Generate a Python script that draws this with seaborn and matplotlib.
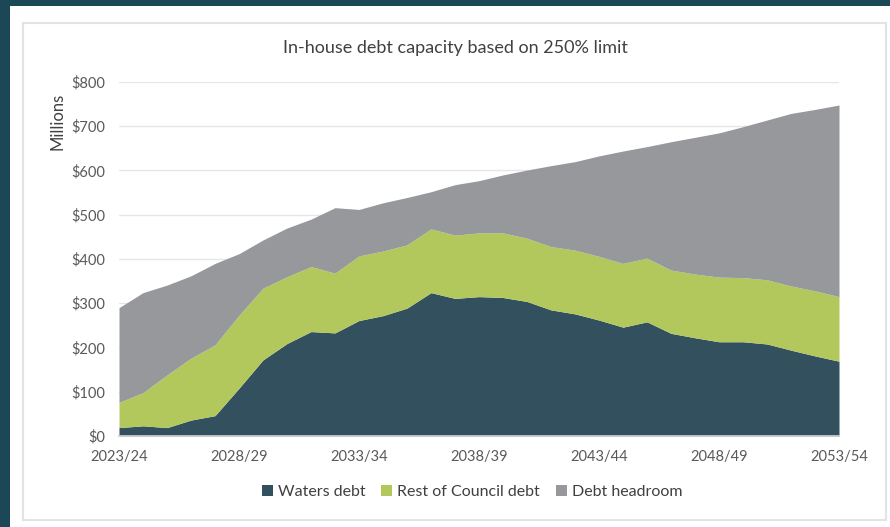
import matplotlib
matplotlib.use("Agg")
import matplotlib.pyplot as plt
from matplotlib.patches import Rectangle
import numpy as np
import pandas as pd
import seaborn as sns

# Financial years 2023/24 .. 2053/54
years = [f"{y}/{str(y + 1)[-2:]}" for y in range(2023, 2054)]

# $ millions, per year
waters_debt = [19, 23, 19, 36, 46, 108, 172, 209, 236, 233, 261, 272, 289, 324, 311,
               315, 313, 304, 285, 276, 262, 246, 258, 232, 222, 213, 213, 208, 194, 181, 169]
rest_of_council_debt = [57, 75, 119, 140, 160, 165, 162, 151, 147, 135, 146, 146, 143, 144, 143,
                        144, 146, 143, 143, 144, 144, 144, 144, 143, 144, 146, 145, 145, 145, 147, 146]
debt_headroom = [214, 226, 203, 186, 184, 139, 109, 110, 107, 148, 105, 109, 107, 84, 114,
                 118, 131, 154, 183, 200, 227, 254, 252, 290, 309, 326, 341, 361, 390, 410, 433]

series_names = ["Waters debt", "Rest of Council debt", "Debt headroom"]
colors = ["#33505f", "#b2c85c", "#96989b"]

df = pd.DataFrame({"year": years, "Waters debt": waters_debt,
                   "Rest of Council debt": rest_of_council_debt,
                   "Debt headroom": debt_headroom})

sns.set_theme(style="white")
plt.rcParams["font.family"] = ["Lato", "DejaVu Sans"]
text_col = "#595959"

W, H = 890, 527
fig = plt.figure(figsize=(W / 100, H / 100), dpi=100)
fig.patch.set_facecolor("#1b4756")

# white page and light chart frame
fig.add_artist(Rectangle((10 / W, 0), 1, 1 - 6 / H, transform=fig.transFigure,
                         facecolor="white", edgecolor="none", zorder=0))
fig.add_artist(Rectangle((23 / W, (H - 520) / H), (886 - 23) / W, (520 - 23) / H,
                         transform=fig.transFigure, facecolor="white",
                         edgecolor="#e3e3e3", linewidth=1.5, zorder=0))

ax = fig.add_axes([119 / W, (H - 436) / H, (839 - 119) / W, (436 - 82) / H])
ax.set_facecolor("none")

x = np.arange(len(df))
ax.stackplot(x, *[df[n].values for n in series_names], colors=colors,
             labels=series_names, linewidth=0)

ax.set_xlim(0, len(df) - 1)
ax.set_ylim(0, 800)
ax.set_yticks(range(0, 801, 100))
ax.set_yticklabels([f"${v}" for v in range(0, 801, 100)], color=text_col, fontsize=10.5)
ax.yaxis.grid(True, color="#e6e6e6", linewidth=1)
ax.set_axisbelow(True)

ax.set_xticks(x)
ax.set_xticklabels([lab if i % 5 == 0 else "" for i, lab in enumerate(years)],
                   color=text_col, fontsize=10.5)
ax.tick_params(axis="x", direction="out", length=4, color="#d0d0d0", width=1, pad=6)
ax.tick_params(axis="y", length=0, pad=10)

sns.despine(ax=ax, left=True, top=True, right=True)
ax.spines["bottom"].set_color("#d0d0d0")

ax.set_ylabel("Millions", color="#404040", fontsize=12)
ax.yaxis.set_label_coords(-0.074, 0.89)

fig.text(455 / W, 1 - 48 / H, "In-house debt capacity based on 250% limit",
         ha="center", va="center", color="#404040", fontsize=13)

leg = fig.legend(loc="center", bbox_to_anchor=(472 / W, 1 - 492 / H), ncol=3,
                 frameon=False, fontsize=11.5, handlelength=0.7, handleheight=0.7,
                 handletextpad=0.3, columnspacing=1.0)
for t in leg.get_texts():
    t.set_color("#404040")

fig.savefig("out.png", dpi=100, facecolor=fig.get_facecolor())
